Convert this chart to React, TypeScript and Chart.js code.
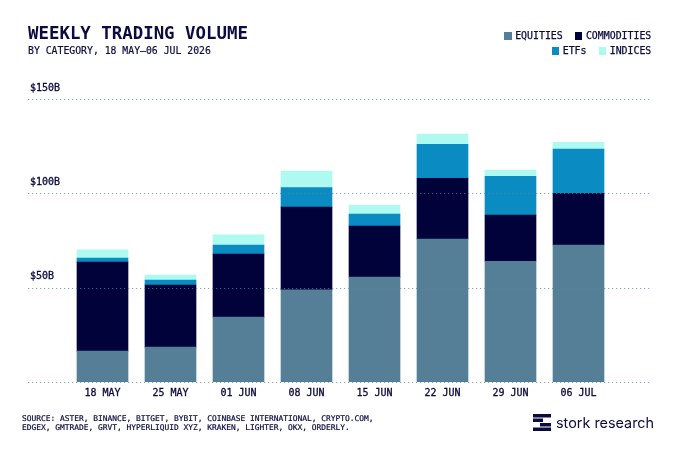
import React, { FC, useEffect, useRef } from 'react';
import Chart from 'chart.js/auto';

const categories = ['18 MAY', '25 MAY', '01 JUN', '08 JUN', '15 JUN', '22 JUN', '29 JUN', '06 JUL'];
const equities = [16.4, 18.5, 34.4, 48.8, 55.6, 75.8, 64, 72.6];
const commodities = [47.2, 32.9, 33.4, 43.9, 27.1, 32.2, 24.5, 27.4];
const etfs = [2.1, 2.6, 4.8, 10.3, 6.3, 18, 20.5, 23.5];
const indices = [4.3, 2.7, 5.4, 8.8, 4.8, 5.4, 3.3, 3.5];
const yTicks = [0, 50, 100, 150];

const INK = '#0b0b3f';
const MONO = '"DejaVu Sans Mono", "Liberation Mono", monospace';
const EQUITIES = '#547f96';
const COMMODITIES = '#01023a';
const ETFS = '#0a8bc2';
const INDICES = '#aefaf1';

// grid lines run wider than the plot area, so the built-in grid can't do it
const wideGrid = {
  id: 'wideGrid',
  afterDatasetsDraw(chart: Chart) {
    const { ctx } = chart;
    const y = chart.scales.y;
    ctx.save();
    ctx.strokeStyle = 'rgba(90, 135, 155, 0.7)';
    ctx.lineWidth = 1.2;
    ctx.setLineDash([1.3, 2.7]);
    yTicks.forEach((t) => {
      const py = Math.round(y.getPixelForValue(t)) + 0.5;
      ctx.beginPath();
      ctx.moveTo(28, py);
      ctx.lineTo(652, py);
      ctx.stroke();
    });
    ctx.restore();
  },
};

const LegendItem: FC<{ color: string; label: string }> = ({ color, label }) => (
  <span style={{ display: 'inline-flex', alignItems: 'center', marginLeft: 12 }}>
    <span style={{ width: 7.7, height: 7.7, background: color, marginRight: 3.5 }} />
    {label}
  </span>
);

const App: FC = () => {
  const chartRef = useRef<HTMLCanvasElement | null>(null);

  useEffect(() => {
    if (!chartRef.current) return;
    const tickStyle = {
      color: INK,
      textStrokeColor: INK,
      textStrokeWidth: 0.3,
      font: { family: MONO, size: 10 },
    };
    const chart = new Chart(chartRef.current, {
      type: 'bar',
      data: {
        labels: categories,
        datasets: [
          { label: 'EQUITIES', data: equities, backgroundColor: EQUITIES },
          { label: 'COMMODITIES', data: commodities, backgroundColor: COMMODITIES },
          { label: 'ETFs', data: etfs, backgroundColor: ETFS },
          { label: 'INDICES', data: indices, backgroundColor: INDICES },
        ],
      },
      options: {
        animation: false,
        responsive: false,
        devicePixelRatio: 1,
        layout: { padding: { left: 30, right: 67.5, top: 99, bottom: 0 } },
        datasets: { bar: { barThickness: 51 } },
        plugins: { legend: { display: false }, tooltip: { enabled: false } },
        scales: {
          x: {
            stacked: true,
            grid: { display: false, drawTicks: false },
            border: { display: false },
            afterFit(scale) {
              scale.height = 71;
            },
            ticks: {
              ...tickStyle,
              padding: 5,
              maxRotation: 0,
              autoSkip: false,
            },
          },
          y: {
            stacked: true,
            min: 0,
            max: 150,
            grid: { display: false, drawTicks: false },
            border: { display: false },
            afterFit(scale) {
              scale.width = 38.5;
            },
            ticks: {
              ...tickStyle,
              stepSize: 50,
              padding: 0,
              crossAlign: 'far',
              labelOffset: -11,
              callback: (v) => (v === 0 ? '' : `$${v}B`),
            },
          },
        },
      },
      plugins: [wideGrid],
    });

    return () => {
      chart.destroy();
    };
  }, []);

  return (
    <div style={{ position: 'absolute', left: 0, top: 0, width: 680, height: 453, background: '#fff', color: INK, fontFamily: MONO, overflow: 'hidden' }}>
      <canvas ref={chartRef} width={680} height={453} style={{ position: 'absolute', left: 0, top: 0 }} />
      <div style={{ position: 'absolute', left: 28, top: 23, fontSize: 17.4, lineHeight: '20px', fontWeight: 700, whiteSpace: 'nowrap' }}>
        WEEKLY TRADING VOLUME
      </div>
      <div style={{ position: 'absolute', left: 28, top: 45, fontSize: 9.8, lineHeight: '12px', whiteSpace: 'nowrap', WebkitTextStroke: '0.2px' }}>
        BY CATEGORY, 18 MAY–06 JUL 2026
      </div>
      <div style={{ position: 'absolute', right: 28.7, top: 29, fontSize: 9.9, lineHeight: '14px', textAlign: 'right', whiteSpace: 'nowrap', WebkitTextStroke: '0.25px' }}>
        <div>
          <LegendItem color={EQUITIES} label="EQUITIES" />
          <LegendItem color={COMMODITIES} label="COMMODITIES" />
        </div>
        <div>
          <LegendItem color={ETFS} label="ETFs" />
          <LegendItem color={INDICES} label="INDICES" />
        </div>
      </div>
      <div style={{ position: 'absolute', left: 22, top: 414, fontSize: 7.9, lineHeight: '9px', whiteSpace: 'nowrap', WebkitTextStroke: '0.2px' }}>
        SOURCE: ASTER, BINANCE, BITGET, BYBIT, COINBASE INTERNATIONAL, CRYPTO.COM,
        <br />
        EDGEX, GMTRADE, GRVT, HYPERLIQUID XYZ, KRAKEN, LIGHTER, OKX, ORDERLY.
      </div>
      <svg width={18} height={17} style={{ position: 'absolute', left: 533, top: 414 }}>
        <rect x={0} y={0} width={18} height={3.5} fill={INK} />
        <rect x={0} y={4.5} width={10} height={3.5} fill={INK} />
        <rect x={7} y={9} width={11} height={3.5} fill={INK} />
        <rect x={0} y={13.5} width={18} height={3.5} fill={INK} />
      </svg>
      <div style={{ position: 'absolute', left: 556, top: 414, fontFamily: 'Inter', fontSize: 14.4, lineHeight: '18px', whiteSpace: 'nowrap' }}>
        stork research
      </div>
    </div>
  );
};

export default App;
